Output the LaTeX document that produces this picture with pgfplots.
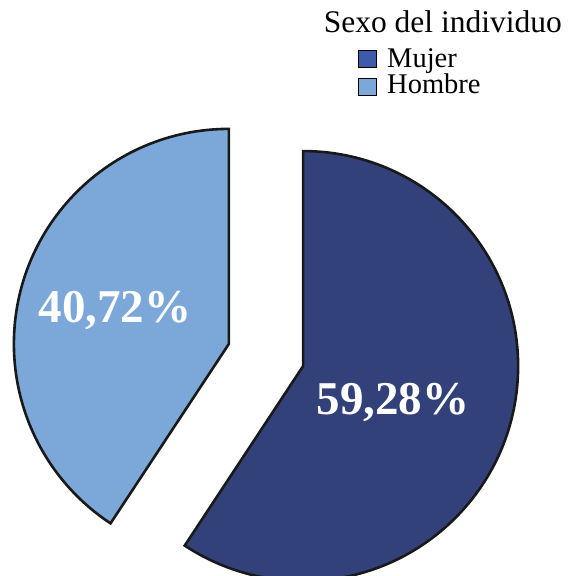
\documentclass[border=0pt]{standalone}
\usepackage{fontspec}
\setmainfont{Liberation Serif}
\usepackage{pgfplots}
\pgfplotsset{compat=1.18}
\definecolor{mujer}{RGB}{51,65,122}
\definecolor{hombre}{RGB}{123,167,217}
\definecolor{mujerleg}{RGB}{62,90,170}
\begin{document}
\begin{tikzpicture}[x=1bp,y=1bp]
\def\vm{59.28}
\def\vh{40.72}
\pgfmathsetmacro{\am}{90-3.6*\vm}
\pgfmathsetmacro{\ah}{90+3.6*\vh}
\begin{axis}[at={(0,0)}, anchor=origin, scale only axis, width=568bp, height=576bp,
  xmin=0, xmax=568, ymin=0, ymax=576, hide axis, clip=false, disabledatascaling]
% Mujer slice
\filldraw[fill=mujer, draw=black!90, line width=2.6bp, line join=miter]
  (axis cs:303.1,209.9) -- ++(90:215) arc[start angle=90, end angle=\am, radius=215] -- cycle;
% Hombre slice
\filldraw[fill=hombre, draw=black!90, line width=2.6bp, line join=miter]
  (axis cs:228.9,232.1) -- ++(90:215) arc[start angle=90, end angle=\ah, radius=215] -- cycle;
% labels
\node[white, anchor=base, inner sep=0pt, font=\bfseries\fontsize{47bp}{52bp}\selectfont] at (axis cs:115,253) {40,72\%};
\node[white, anchor=base, inner sep=0pt, font=\bfseries\fontsize{47bp}{52bp}\selectfont] at (axis cs:393,161) {59,28\%};
% legend
\node[anchor=base east, inner sep=0pt, font=\fontsize{31.5bp}{36bp}\selectfont] at (axis cs:562,543) {Sexo del individuo};
\filldraw[fill=mujerleg, draw=black, line width=1.6bp] (axis cs:358.5,508.5) rectangle (axis cs:376.5,525.5);
\node[anchor=base west, inner sep=0pt, font=\fontsize{28.5bp}{32bp}\selectfont] at (axis cs:387,508) {Mujer};
\filldraw[fill=hombre, draw=black, line width=1.6bp] (axis cs:358.5,480.5) rectangle (axis cs:376.5,497.5);
\node[anchor=base west, inner sep=0pt, font=\fontsize{28.5bp}{32bp}\selectfont] at (axis cs:387,482) {Hombre};
\end{axis}
\pgfresetboundingbox
\path (0,0) rectangle (568,576);
\end{tikzpicture}
\end{document}
